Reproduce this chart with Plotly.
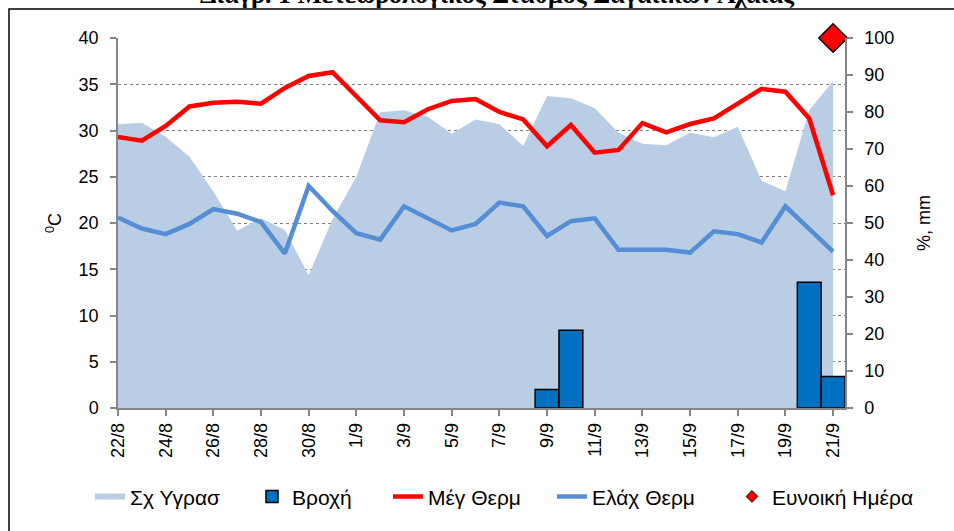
import plotly.graph_objects as go

# ---------------- data ----------------
dates = ["22/8", "23/8", "24/8", "25/8", "26/8", "27/8", "28/8", "29/8", "30/8", "31/8",
         "1/9", "2/9", "3/9", "4/9", "5/9", "6/9", "7/9", "8/9", "9/9", "10/9",
         "11/9", "12/9", "13/9", "14/9", "15/9", "16/9", "17/9", "18/9", "19/9", "20/9", "21/9"]

t_max = [29.3, 28.9, 30.5, 32.6, 33.0, 33.1, 32.9, 34.6, 35.9, 36.3,
         33.7, 31.1, 30.9, 32.3, 33.2, 33.4, 32.0, 31.2, 28.3, 30.6,
         27.6, 27.9, 30.8, 29.8, 30.7, 31.3, 32.9, 34.5, 34.2, 31.3, 23.0]

t_min = [20.6, 19.4, 18.8, 19.9, 21.5, 21.0, 20.1, 16.7, 24.0, 21.3,
         18.9, 18.2, 21.8, 20.5, 19.2, 19.9, 22.2, 21.8, 18.6, 20.2,
         20.5, 17.1, 17.1, 17.1, 16.8, 19.1, 18.8, 17.9, 21.8, 19.3, 16.9]

humidity = [76.7, 77.1, 73.3, 67.9, 58.5, 47.9, 51.3, 48.1, 35.9, 51.0,
            62.5, 79.9, 80.5, 78.7, 74.1, 78.0, 76.7, 70.8, 84.3, 83.7,
            81.0, 74.4, 71.4, 71.0, 74.4, 73.2, 76.0, 61.4, 58.6, 80.5, 88.4]

rain = [0, 0, 0, 0, 0, 0, 0, 0, 0, 0,
        0, 0, 0, 0, 0, 0, 0, 0, 5.0, 21.0,
        0, 0, 0, 0, 0, 0, 0, 0, 0, 34.0, 8.5]

favorable_days = ["21/9"]
favorable_level = [100]

tick_labels = dates[::2]

title_text = "Διάγρ. 1 Μετεωρολογικός Σταθμός Σαγαιίκων Αχαΐας"

# ---------------- figure ----------------
idx = list(range(len(dates)))
FONT = "Liberation Sans, Arial, sans-serif"
AXC = "#868686"
L, PW = 118, 727          # plot-area left edge and width (px)


def px_to_paper_x(px):
    return (px - L) / PW


fig = go.Figure()

# humidity area (base right axis)
fig.add_trace(go.Scatter(
    x=idx, y=humidity, name="Σχ Υγρασ", mode="none", fill="tozeroy",
    fillcolor="#B9CDE5", yaxis="y", legend="legend"))

# rain bars (hidden overlay axis with same 0-100 scale, drawn above area)
fig.add_trace(go.Bar(
    x=idx, y=[r if r > 0 else None for r in rain], name="Βροχή", width=1.0,
    marker=dict(color="#0070C0", line=dict(color="black", width=1.5)),
    yaxis="y2", legend="legend2"))

fav_x = [dates.index(d) for d in favorable_days]
fig.add_trace(go.Scatter(
    x=fav_x, y=favorable_level, mode="markers", showlegend=False,
    marker=dict(symbol="diamond", size=22, color="#FF0000",
                line=dict(color="black", width=1.5)),
    yaxis="y2", cliponaxis=False))

fig.add_trace(go.Scatter(
    x=[None], y=[None], name="Ευνοική Ημέρα", mode="markers",
    marker=dict(symbol="diamond", size=9, color="#FF0000",
                line=dict(color="black", width=1)),
    yaxis="y2", legend="legend5"))

# temperatures (left axis, top layer)
fig.add_trace(go.Scatter(
    x=idx, y=t_max, name="Μέγ Θερμ", mode="lines",
    line=dict(color="#FF0000", width=4.5), yaxis="y3", legend="legend3"))

fig.add_trace(go.Scatter(
    x=idx, y=t_min, name="Ελάχ Θερμ", mode="lines",
    line=dict(color="#558ED5", width=4.5), yaxis="y3", legend="legend4"))

tickfont = dict(family=FONT, size=18, color="black")
legfont = dict(family=FONT, size=21, color="black")


def leg(text_start_px):
    return dict(orientation="h", x=px_to_paper_x(text_start_px - 40), xanchor="left",
                y=-0.24, yanchor="middle", font=legfont, bgcolor="rgba(0,0,0,0)")


fig.update_layout(
    width=954, height=531,
    margin=dict(l=118, r=109, t=38, b=123),
    paper_bgcolor="white", plot_bgcolor="white",
    font=dict(family=FONT, size=18, color="black"),
    barmode="overlay",
    xaxis=dict(
        range=[0, 30.5], tickmode="array", tickvals=idx[::2], ticktext=tick_labels,
        tickangle=-90, ticks="outside", ticklen=6, tickcolor=AXC, tickwidth=1.5,
        showline=True, linecolor=AXC, linewidth=1.5, showgrid=False, zeroline=False,
        tickfont=tickfont),
    yaxis=dict(
        side="right", range=[0, 100], dtick=10, tick0=0, ticks="outside", ticklen=6,
        tickcolor=AXC, tickwidth=1.5, showline=True, linecolor=AXC, linewidth=1.5,
        showgrid=False, zeroline=False, tickfont=tickfont, ticklabelstandoff=8,
        title=dict(text="%, mm", font=dict(family=FONT, size=18), standoff=24)),
    yaxis2=dict(overlaying="y", range=[0, 100], visible=False, showgrid=False,
                zeroline=False),
    yaxis3=dict(
        overlaying="y", side="left", range=[0, 40], dtick=5, tick0=0, ticks="outside",
        ticklen=6, tickcolor=AXC, tickwidth=1.5, showline=True, linecolor=AXC,
        linewidth=1.5, showgrid=True, gridcolor="#808080", griddash="dot", gridwidth=1,
        zeroline=False, tickfont=tickfont, ticklabelstandoff=8,
        title=dict(text="<sup>0</sup>C", font=dict(family=FONT, size=18), standoff=12)),
    legend=leg(130),
    legend2=leg(292),
    legend3=leg(428),
    legend4=leg(592),
    legend5=leg(772),
    shapes=[dict(type="rect", xref="paper", yref="paper",
                 x0=px_to_paper_x(9), x1=1.2, y0=-0.4, y1=(408 - 9) / 370,
                 line=dict(color="black", width=1.5), layer="below")],
    annotations=[dict(text="<b>" + title_text + "</b>", xref="paper", yref="paper",
                      x=px_to_paper_x(497), y=(408 - 11.5) / 370, xanchor="center",
                      yanchor="bottom", showarrow=False,
                      font=dict(family="Liberation Serif, Times New Roman, serif", size=26))],
)

fig.write_html("out.html",
               config={"displayModeBar": False},
               post_script="document.body.style.margin='0';document.body.style.overflow='hidden';")
